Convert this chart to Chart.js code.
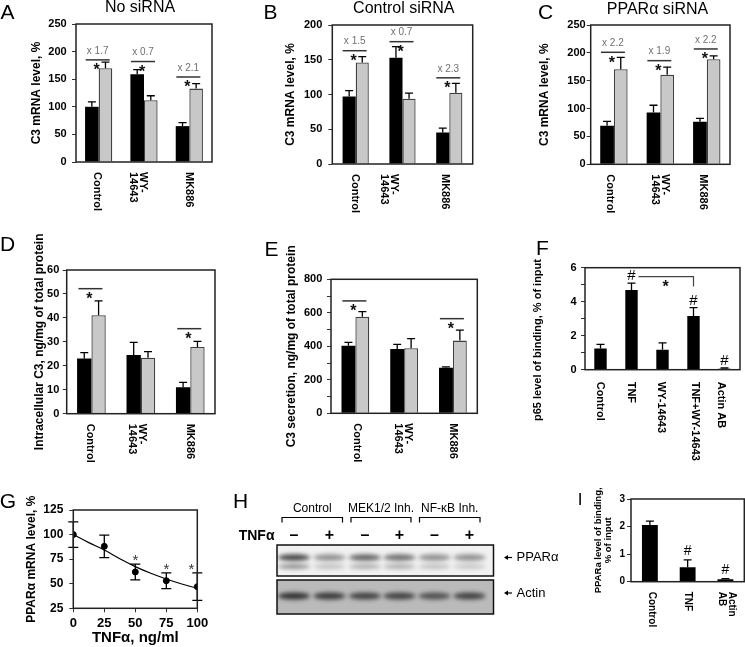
<!DOCTYPE html>
<html>
<head>
<meta charset="utf-8">
<script src="https://cdn.jsdelivr.net/npm/chart.js@4.4.1/dist/chart.umd.min.js"></script>
<style>
  body { margin: 0; background: #fff; width: 745px; height: 647px; overflow: hidden; position: relative;
         font-family: 'Liberation Sans', Arial, sans-serif; }
  canvas { position: absolute; }
  .t { position: absolute; line-height: 1; white-space: nowrap; transform: translate(-50%, -50%); color: #000; }
  .L { font-size: 21px; }
  .T { font-size: 16px; }
</style>
</head>
<body>
<canvas id="a"></canvas><canvas id="b"></canvas><canvas id="c"></canvas>
<canvas id="d"></canvas><canvas id="e"></canvas><canvas id="f"></canvas>
<canvas id="g"></canvas><canvas id="h"></canvas><canvas id="i"></canvas>

<div class="t L" style="left:7.5px;top:10.5px">A</div>
<div class="t L" style="left:270.5px;top:10.5px">B</div>
<div class="t L" style="left:545.5px;top:10.5px">C</div>
<div class="t L" style="left:7.5px;top:242.5px">D</div>
<div class="t L" style="left:271.5px;top:247.5px">E</div>
<div class="t L" style="left:542.5px;top:247px">F</div>
<div class="t L" style="left:8px;top:500px">G</div>
<div class="t L" style="left:240.5px;top:500px">H</div>
<div class="t L" style="left:580px;top:499px;font-size:17px">I</div>
<div class="t T" style="left:140px;top:7px">No siRNA</div>
<div class="t T" style="left:403.8px;top:7.5px">Control siRNA</div>
<div class="t T" style="left:657.5px;top:9px">PPARα siRNA</div>

<script>
const FONT = "'Liberation Sans', Arial, sans-serif";

// categories shared by A-E
const groupCats = [['Control'], ['WY-', '14643'], ['MK886']];

// A - No siRNA
const aUntreated = [100, 159, 65];
const aUntreatedErr = [9, 8.5, 6.5];
const aTnf = [170, 112, 133];
const aTnfErr = [11, 8, 9];
const aFold = ['x 1.7', 'x 0.7', 'x 2.1'];
const aSigLevel = [185, 182, 154];

// B - Control siRNA
const bUntreated = [97, 153, 45.5];
const bUntreatedErr = [8.5, 16, 6];
const bTnf = [146, 94, 102.5];
const bTnfErr = [8.5, 8, 13.5];
const bFold = ['x 1.5', 'x 0.7', 'x 2.3'];
const bSigLevel = [163, 176, 124];

// C - PPARa siRNA
const cUntreated = [69, 93, 76.5];
const cUntreatedErr = [8, 13, 6];
const cTnf = [170.5, 160.5, 188.5];
const cTnfErr = [21.5, 14, 6];
const cFold = ['x 2.2', 'x 1.9', 'x 2.2'];
const cSigLevel = [201, 186, 207];

// D - intracellular C3
const dUntreated = [23.1, 24.5, 11];
const dUntreatedErr = [2.4, 5.3, 2.1];
const dTnf = [41.1, 23.4, 27.9];
const dTnfErr = [6, 2.5, 2.3];
const dSigLevel = [52.2, null, 35.5];

// E - C3 secretion
const eUntreated = [404, 384, 272];
const eUntreatedErr = [20, 28, 5];
const eTnf = [577, 388, 434];
const eTnfErr = [30, 58, 63];
const eSigLevel = [671, null, 565];

// F - p65 binding
const fCats = [['Control'], ['TNF'], ['WY-14643'], ['TNF+WY-14643'], ['Actin AB']];
const fBinding = [1.25, 4.69, 1.18, 3.16, 0.06];
const fBindingErr = [0.24, 0.4, 0.4, 0.49, 0.04];
const fHash = [false, true, false, true, true];
const fBracket = { from: 1, to: 3, level: 5.47, drop: 4.9, star: 5.08 };

// G - PPARa mRNA vs TNFa dose
const gDose = [0, 25, 50, 75, 100];
const gLevel = [100, 88, 62, 53, 47];
const gErr = [13, 11.5, 8, 8, 14];
const gStar = [false, false, true, true, true];
const gFitDose = [0, 12.5, 25, 37.5, 50, 62.5, 75, 87.5, 100];
const gFit = [100, 91.8, 84.3, 75.5, 67.4, 60.6, 54.8, 49.7, 45.3];

// H - western blot (band darkness per lane)
const hGroups = ['Control', 'MEK1/2 Inh.', 'NF-κB Inh.'];
const hTnf = ['–', '+', '–', '+', '–', '+'];
const hPpar = [0.8, 0.45, 0.65, 0.6, 0.45, 0.45];
const hPparLow = [0.5, 0.25, 0.35, 0.35, 0.25, 0.22];
const hActin = [0.85, 0.8, 0.75, 0.75, 0.65, 0.75];

// I - PPARa binding
const iCats = [['Control'], ['TNF'], ['Actin', 'AB']];
const iBinding = [2.06, 0.52, 0.085];
const iBindingErr = [0.14, 0.27, 0.03];
const iHash = [false, true, true];

Chart.defaults.font.family = FONT;
Chart.defaults.color = '#000';

function place(cv, r) {
  cv.width = r[2]; cv.height = r[3];
  cv.style.left = r[0] + 'px'; cv.style.top = r[1] + 'px';
  cv.style.width = r[2] + 'px'; cv.style.height = r[3] + 'px';
}

function star(ctx, x, y, size, weight, color) {
  ctx.font = `${weight} ${size}px ${FONT}`;
  ctx.fillStyle = color;
  ctx.textAlign = 'center';
  ctx.textBaseline = 'middle';
  ctx.fillText('*', x, y + size * 0.24);
}

function rawY(chart, d, i) {
  const raw = chart.data.datasets[d].data[i];
  return typeof raw === 'object' ? raw.y : raw;
}

const extras = {
  id: 'extras',
  afterDatasetsDraw(chart, args, o) {
    if (!o || !o.on) return;
    const ctx = chart.ctx, xs = chart.scales.x, ys = chart.scales.y;
    ctx.save();
    // error bars
    ctx.strokeStyle = '#000';
    ctx.lineWidth = 1.3;
    (o.errs || []).forEach((errs, d) => {
      chart.getDatasetMeta(d).data.forEach((el, i) => {
        const v = rawY(chart, d, i);
        const top = ys.getPixelForValue(v + errs[i]);
        const bot = o.twoSided ? ys.getPixelForValue(v - errs[i]) : el.y;
        ctx.beginPath();
        ctx.moveTo(el.x, bot); ctx.lineTo(el.x, top);
        ctx.moveTo(el.x - o.cap, top); ctx.lineTo(el.x + o.cap, top);
        if (o.twoSided) { ctx.moveTo(el.x - o.cap, bot); ctx.lineTo(el.x + o.cap, bot); }
        ctx.stroke();
      });
    });
    // significance lines with star and fold change
    (o.sig || []).forEach((lvl, i) => {
      if (lvl == null) return;
      const cx = xs.getPixelForValue(i), y = ys.getPixelForValue(lvl);
      ctx.strokeStyle = '#333';
      ctx.lineWidth = 1.5;
      ctx.beginPath(); ctx.moveTo(cx - 13, y); ctx.lineTo(cx + 11, y); ctx.stroke();
      star(ctx, cx - 2, y + 7, 16, 'bold', '#111');
      if (o.fold) {
        ctx.font = `10px ${FONT}`;
        ctx.fillStyle = '#707070';
        ctx.textAlign = 'center';
        ctx.textBaseline = 'middle';
        ctx.fillText(o.fold[i], cx - 1, y - 9);
      }
    });
    // marks above error bars (# or *)
    if (o.marks) {
      const m = o.marks;
      chart.getDatasetMeta(0).data.forEach((el, i) => {
        if (!m.flags[i]) return;
        const top = ys.getPixelForValue(rawY(chart, 0, i) + o.errs[0][i]);
        const x = el.x + (m.shift ? m.shift[i] : 0), y = top - m.gap;
        if (m.text === '*') {
          star(ctx, x, y, m.size, 'normal', '#333');
        } else {
          ctx.font = `${m.size}px ${FONT}`;
          ctx.fillStyle = '#000';
          ctx.textAlign = 'center';
          ctx.textBaseline = 'middle';
          ctx.fillText(m.text, x, y);
        }
      });
    }
    // bracket between two bars
    if (o.bracket) {
      const b = o.bracket;
      const xa = xs.getPixelForValue(b.from), xb = xs.getPixelForValue(b.to);
      const y = ys.getPixelForValue(b.level);
      ctx.strokeStyle = '#444';
      ctx.lineWidth = 1.2;
      ctx.beginPath();
      ctx.moveTo(xa + 7, y); ctx.lineTo(xb, y); ctx.lineTo(xb, ys.getPixelForValue(b.drop));
      ctx.stroke();
      star(ctx, (xa + xb) / 2 + 3, ys.getPixelForValue(b.star), 16, 'bold', '#111');
    }
    ctx.restore();
  },
  afterDraw(chart, args, o) {
    if (!o || !o.on) return;
    const ctx = chart.ctx, a = chart.chartArea, xs = chart.scales.x;
    ctx.save();
    ctx.strokeStyle = '#222';
    ctx.lineWidth = 1.5;
    ctx.strokeRect(a.left, a.top, a.right - a.left, a.bottom - a.top);
    if (o.cats) {
      ctx.font = `bold ${o.catSize}px ${FONT}`;
      ctx.fillStyle = '#000';
      ctx.textAlign = 'left';
      ctx.textBaseline = 'middle';
      o.cats.forEach((lines, i) => {
        ctx.save();
        ctx.translate(xs.getPixelForValue(i) + o.catShift[i], a.bottom + o.catGap);
        ctx.rotate(Math.PI / 2);
        lines.forEach((t, k) => ctx.fillText(t, 0, (k - (lines.length - 1) / 2) * 10));
        ctx.restore();
      });
    }
    // axis title placed off-centre (panel F)
    if (o.freeTitle) {
      const t = o.freeTitle;
      ctx.save();
      ctx.translate(t.x - chart.canvas.offsetLeft, t.y - chart.canvas.offsetTop);
      ctx.rotate(-Math.PI / 2);
      ctx.font = `bold ${t.size}px ${FONT}`;
      ctx.fillStyle = '#000';
      ctx.textAlign = 'center';
      ctx.textBaseline = 'middle';
      ctx.fillText(t.text, 0, 0);
      ctx.restore();
    }
    ctx.restore();
  }
};
Chart.register(extras);

// r = canvas rect [x, y, w, h], p = plot box [left, top, right, bottom] in page pixels
function frame(r, p, titleX, titleSize, titleLh) {
  const padLeft = titleX - r[0] - titleSize * titleLh / 2;
  return {
    padding: { left: padLeft, top: p[1] - r[1], right: r[0] + r[2] - p[2], bottom: 0 },
    yWidth: p[0] - r[0] - padLeft,
    xHeight: r[1] + r[3] - p[3]
  };
}

function yAxis(fr, o) {
  return {
    min: o.min || 0, max: o.max,
    ticks: {
      stepSize: o.step, padding: o.gap - 4, color: '#000',
      font: { size: o.tickSize || 11, weight: 'bold' },
      callback: o.every ? (v => (v % o.every === 0 ? v : '')) : (v => v)
    },
    grid: { drawOnChartArea: false, tickLength: 4, color: '#333' },
    border: { display: false },
    title: { display: !o.titleY, text: o.title, padding: 0, color: '#000',
             font: { size: o.titleSize, weight: 'bold', lineHeight: o.titleLh } },
    afterFit: s => { s.width = fr.yWidth; }
  };
}

function barPanel(id, r, p, o) {
  const titleLh = o.titleLh || 1.2;
  const fr = frame(r, p, o.titleX, o.titleSize, titleLh);
  const cv = document.getElementById(id);
  place(cv, r);
  const datasets = o.series.map((s, k) => ({
    data: s,
    backgroundColor: k === 0 ? '#000' : '#c8c8c8',
    borderColor: k === 0 ? '#000' : '#404040',
    borderWidth: k === 0 ? 0 : 1.3,
    categoryPercentage: o.catPct,
    barPercentage: 1
  }));
  new Chart(cv, {
    type: 'bar',
    data: { labels: o.cats.map(c => c.join(' ')), datasets },
    options: {
      responsive: false, animation: false, devicePixelRatio: 1,
      layout: { padding: fr.padding },
      scales: {
        x: { ticks: { display: false }, grid: { display: false }, border: { display: false },
             afterFit: s => { s.height = fr.xHeight; } },
        y: yAxis(fr, Object.assign({ titleLh }, o))
      },
      plugins: {
        legend: { display: false }, tooltip: { enabled: false },
        extras: {
          on: true, errs: o.errs, cap: 4, sig: o.sig, fold: o.fold, marks: o.marks, bracket: o.bracket,
          cats: o.cats, catSize: o.catSize || 11, catGap: o.catGap || 10, catShift: o.catShift,
          freeTitle: o.titleY ? { text: o.title, x: o.titleX, y: o.titleY, size: o.titleSize } : null
        }
      }
    }
  });
}

barPanel('a', [0, 0, 245, 228], [76, 24, 212, 162], {
  series: [aUntreated, aTnf], errs: [aUntreatedErr, aTnfErr], sig: aSigLevel, fold: aFold,
  cats: groupCats, catShift: [-2, -6, 0], catPct: 0.6,
  max: 250, step: 50, gap: 9.3, title: 'C3 mRNA level, %', titleX: 37, titleSize: 12
});
barPanel('b', [245, 0, 250, 228], [332.3, 25, 472.7, 164], {
  series: [bUntreated, bTnf], errs: [bUntreatedErr, bTnfErr], sig: bSigLevel, fold: bFold,
  cats: groupCats, catShift: [-1, -13, -4], catPct: 0.56,
  max: 200, step: 50, gap: 10, title: 'C3 mRNA level, %', titleX: 290.7, titleSize: 12
});
barPanel('c', [495, 0, 250, 228], [590.7, 25, 730, 164.3], {
  series: [cUntreated, cTnf], errs: [cUntreatedErr, cTnfErr], sig: cSigLevel, fold: cFold,
  cats: groupCats, catShift: [-4, 0, -3.5], catPct: 0.59,
  max: 250, step: 50, gap: 5, title: 'C3 mRNA level, %', titleX: 545, titleSize: 12
});
barPanel('d', [0, 230, 245, 250], [66.7, 270, 215, 413.7], {
  series: [dUntreated, dTnf], errs: [dUntreatedErr, dTnfErr], sig: dSigLevel,
  cats: groupCats, catShift: [-1, -3.5, 0], catPct: 0.58,
  max: 60, step: 10, gap: 7.4, title: 'Intracellular C3, ng/mg of total protein', titleX: 40, titleSize: 12
});
barPanel('e', [245, 230, 250, 250], [331, 279.3, 477.3, 413.3], {
  series: [eUntreated, eTnf], errs: [eUntreatedErr, eTnfErr], sig: eSigLevel,
  cats: groupCats, catShift: [2, -1, 0], catPct: 0.57,
  max: 800, step: 100, every: 200, gap: 8.7, title: 'C3 secretion, ng/mg of total protein', titleX: 291.7, titleSize: 12
});
barPanel('f', [495, 230, 250, 255], [585, 267.7, 740, 369.7], {
  series: [fBinding], errs: [fBindingErr],
  marks: { flags: fHash, text: '#', gap: 7, size: 15 }, bracket: fBracket,
  cats: fCats, catShift: [0, 0, -1, 2, -3], catPct: 0.4, catGap: 12,
  max: 6, step: 1, every: 2, gap: 8.3, title: 'p65 level of binding, % of input',
  titleX: 538.3, titleY: 340, titleSize: 11
});
barPanel('i', [560, 485, 185, 162], [631, 499, 744.3, 581.7], {
  series: [iBinding], errs: [iBindingErr],
  marks: { flags: iHash, text: '#', gap: 8.5, size: 14 },
  cats: iCats, catShift: [2, 0, 1], catPct: 0.42, catSize: 10,
  max: 3, step: 1, gap: 6, tickSize: 10,
  title: ['PPARa level of binding,', '% of input'], titleX: 598.3, titleSize: 9.5, titleLh: 1.08
});

// G - dose response with fitted curve
(function () {
  const r = [0, 480, 245, 167], p = [73.3, 510, 197.3, 608.3];
  const fr = frame(r, p, 31.7, 12, 1.2);
  const cv = document.getElementById('g');
  place(cv, r);
  new Chart(cv, {
    type: 'scatter',
    data: {
      datasets: [
        { data: gDose.map((x, i) => ({ x, y: gLevel[i] })), pointRadius: 3,
          backgroundColor: '#000', borderColor: '#000' },
        { data: gFitDose.map((x, i) => ({ x, y: gFit[i] })), showLine: true, pointRadius: 0,
          borderColor: '#000', borderWidth: 1.2, tension: 0.4 }
      ]
    },
    options: {
      responsive: false, animation: false, devicePixelRatio: 1,
      layout: { padding: fr.padding },
      scales: {
        x: {
          type: 'linear', min: 0, max: 100,
          ticks: { stepSize: 25, padding: 3, color: '#000', font: { size: 13, weight: 'bold' } },
          grid: { drawOnChartArea: false, tickLength: 4, color: '#333' },
          border: { display: false },
          title: { display: true, text: 'TNFα, ng/ml', padding: 0, color: '#000',
                   font: { size: 15, weight: 'bold', lineHeight: 1.2 } },
          afterFit: s => { s.height = fr.xHeight; }
        },
        y: yAxis(fr, { min: 25, max: 125, step: 25, gap: 10, tickSize: 12,
                       title: 'PPARα mRNA level, %', titleSize: 12, titleLh: 1.2 })
      },
      plugins: {
        legend: { display: false }, tooltip: { enabled: false },
        extras: { on: true, errs: [gErr], cap: 5, twoSided: true,
                  marks: { flags: gStar, text: '*', gap: 7, size: 15, shift: [0, 0, 0, 0, -6] } }
      }
    }
  });
})();

// H - western blot
function blot(ctx, b, bg, bands, laneX) {
  ctx.save();
  ctx.beginPath(); ctx.rect(b[0], b[1], b[2], b[3]); ctx.clip();
  ctx.fillStyle = bg;
  ctx.fillRect(b[0], b[1], b[2], b[3]);
  ctx.filter = 'blur(2px)';
  bands.forEach(([vals, y, ry]) => vals.forEach((a, i) => {
    ctx.fillStyle = `rgba(25,25,25,${a})`;
    ctx.beginPath(); ctx.ellipse(laneX[i], y, 16, ry, 0, 0, Math.PI * 2); ctx.fill();
  }));
  ctx.restore();
  ctx.lineWidth = 1.5;
  ctx.strokeStyle = '#111';
  ctx.strokeRect(b[0], b[1], b[2], b[3]);
}

function arrow(ctx, x, y) {
  ctx.strokeStyle = '#000'; ctx.fillStyle = '#000'; ctx.lineWidth = 1.2;
  ctx.beginPath(); ctx.moveTo(x + 8, y); ctx.lineTo(x + 2, y); ctx.stroke();
  ctx.beginPath(); ctx.moveTo(x, y); ctx.lineTo(x + 4, y - 2.5); ctx.lineTo(x + 4, y + 2.5); ctx.closePath(); ctx.fill();
}

(function () {
  const r = [236, 488, 326, 137];
  const cv = document.getElementById('h');
  place(cv, r);
  const ctx = cv.getContext('2d');
  ctx.translate(-r[0], -r[1]);
  const laneX = [294, 329.5, 365, 399.5, 434.5, 469.5];
  const groupX = [[282, 342.5], [351, 411], [419.5, 480]];
  ctx.fillStyle = '#000';
  ctx.strokeStyle = '#000';
  ctx.textAlign = 'center';
  ctx.textBaseline = 'middle';
  ctx.font = `12px ${FONT}`;
  hGroups.forEach((g, k) => {
    const [x1, x2] = groupX[k];
    ctx.fillText(g, (x1 + x2) / 2, 509);
    ctx.lineWidth = 1.2;
    ctx.beginPath();
    ctx.moveTo(x1, 522.5); ctx.lineTo(x1, 517.5); ctx.lineTo(x2, 517.5); ctx.lineTo(x2, 522.5);
    ctx.stroke();
  });
  ctx.font = `bold 14px ${FONT}`;
  ctx.textAlign = 'right';
  ctx.fillText('TNFα', 274.5, 536);
  ctx.font = `bold 16px ${FONT}`;
  ctx.textAlign = 'center';
  hTnf.forEach((s, i) => ctx.fillText(s, laneX[i], 536));

  blot(ctx, [277, 545, 216.5, 31], '#f1f1f1', [[hPpar, 557.5, 3.2], [hPparLow, 566.5, 2.2]], laneX);
  blot(ctx, [277, 580, 216.5, 34], '#bababa', [[hActin, 596, 3.5]], laneX);

  arrow(ctx, 504, 557.5);
  arrow(ctx, 504, 593);
  ctx.fillStyle = '#000';
  ctx.font = `13px ${FONT}`;
  ctx.textAlign = 'left';
  ctx.fillText('PPARα', 516.5, 557.5);
  ctx.fillText('Actin', 516.5, 593);
})();
</script>
</body>
</html>
